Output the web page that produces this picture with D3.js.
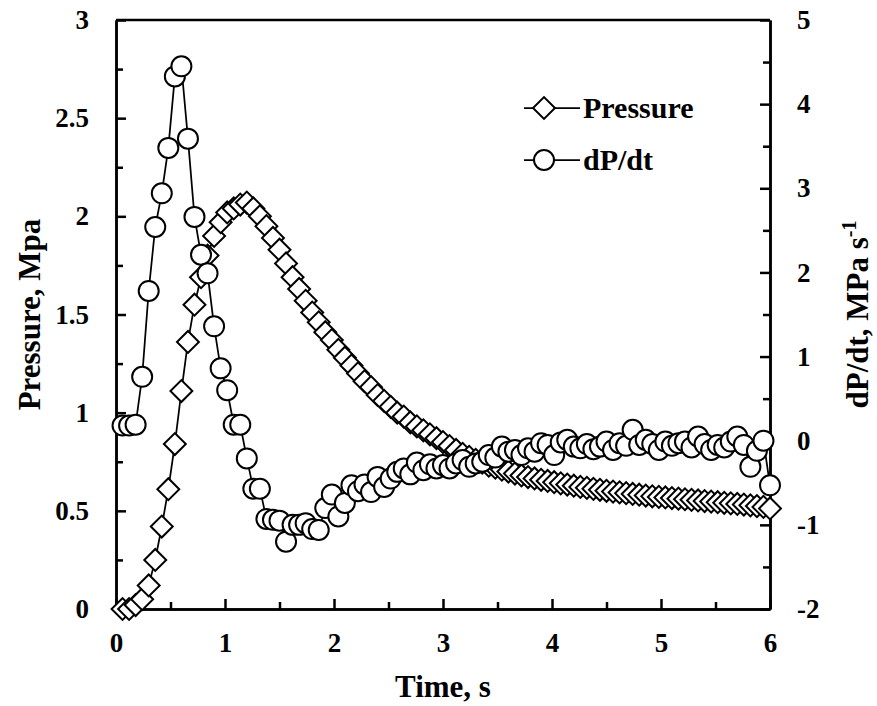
<!DOCTYPE html>
<html>
<head>
<meta charset="utf-8">
<script src="https://cdn.jsdelivr.net/npm/d3@7"></script>
<style>
  body { margin: 0; background: #fff; }
  text { font-family: "Liberation Serif", "Times New Roman", serif; font-weight: bold; }
</style>
</head>
<body>
<div id="chart"></div>
<script>
// Pressure and its rate of change vs time, twin y axes.

const time = [
  0.06, 0.12, 0.18, 0.24, 0.30, 0.36, 0.42, 0.48, 0.54, 0.60,
  0.66, 0.72, 0.78, 0.84, 0.90, 0.96, 1.02, 1.08, 1.14, 1.20,
  1.26, 1.32, 1.38, 1.44, 1.50, 1.56, 1.62, 1.68, 1.74, 1.80,
  1.86, 1.92, 1.98, 2.04, 2.10, 2.16, 2.22, 2.28, 2.34, 2.40,
  2.46, 2.52, 2.58, 2.64, 2.70, 2.76, 2.82, 2.88, 2.94, 3.00,
  3.06, 3.12, 3.18, 3.24, 3.30, 3.36, 3.42, 3.48, 3.54, 3.60,
  3.66, 3.72, 3.78, 3.84, 3.90, 3.96, 4.02, 4.08, 4.14, 4.20,
  4.26, 4.32, 4.38, 4.44, 4.50, 4.56, 4.62, 4.68, 4.74, 4.80,
  4.86, 4.92, 4.98, 5.04, 5.10, 5.16, 5.22, 5.28, 5.34, 5.40,
  5.46, 5.52, 5.58, 5.64, 5.70, 5.76, 5.82, 5.88, 5.94, 6.00
];

// Pressure, MPa (left axis)
const pressure = [
  0.00, 0.00, 0.02, 0.05, 0.12, 0.25, 0.42, 0.61, 0.84, 1.11,
  1.36, 1.55, 1.69, 1.80, 1.90, 1.97, 2.02, 2.04, 2.06, 2.07,
  2.04, 2.00, 1.95, 1.89, 1.83, 1.76, 1.69, 1.63, 1.57, 1.51,
  1.46, 1.41, 1.37, 1.32, 1.28, 1.24, 1.20, 1.16, 1.13, 1.09,
  1.06, 1.03, 1.00, 0.98, 0.95, 0.93, 0.91, 0.89, 0.87, 0.85,
  0.83, 0.81, 0.79, 0.775, 0.76, 0.745, 0.73, 0.72, 0.71, 0.70,
  0.69, 0.68, 0.672, 0.665, 0.658, 0.652, 0.646, 0.64, 0.634, 0.628,
  0.622, 0.617, 0.612, 0.607, 0.602, 0.598, 0.594, 0.59, 0.586, 0.582,
  0.578, 0.574, 0.571, 0.568, 0.565, 0.562, 0.559, 0.556, 0.553, 0.55,
  0.547, 0.544, 0.541, 0.538, 0.535, 0.532, 0.528, 0.524, 0.52, 0.512
];

// dP/dt, MPa s-1 (right axis)
const dpdt = [
  0.18, 0.18, 0.19, 0.76, 1.78, 2.54, 2.94, 3.48, 4.33, 4.45,
  3.59, 2.66, 2.21, 1.99, 1.36, 0.86, 0.60, 0.19, 0.19, -0.21,
  -0.57, -0.57, -0.93, -0.94, -0.95, -1.20, -1.00, -1.00, -0.98, -1.05,
  -1.06, -0.80, -0.64, -0.90, -0.74, -0.53, -0.60, -0.52, -0.61, -0.43,
  -0.55, -0.45, -0.37, -0.33, -0.40, -0.26, -0.35, -0.28, -0.33, -0.29,
  -0.33, -0.27, -0.23, -0.31, -0.27, -0.25, -0.17, -0.20, -0.07, -0.13,
  -0.11, -0.17, -0.09, -0.13, -0.03, -0.05, -0.17, -0.02, 0.01, -0.07,
  -0.09, -0.04, -0.10, -0.07, -0.01, -0.11, -0.03, -0.06, 0.13, -0.05,
  0.01, -0.04, -0.11, -0.01, -0.06, -0.03, -0.01, -0.08, 0.05, -0.04,
  -0.11, -0.05, -0.08, -0.01, 0.05, -0.05, -0.31, -0.12, 0.00, -0.53
];

const xTicks = [0, 1, 2, 3, 4, 5, 6];
const xMinor = [0.5, 1.5, 2.5, 3.5, 4.5, 5.5];
const yLeftTicks = [0, 0.5, 1, 1.5, 2, 2.5, 3];
const yLeftMinor = [0.25, 0.75, 1.25, 1.75, 2.25, 2.75];
const yRightTicks = [-2, -1, 0, 1, 2, 3, 4, 5];
const yRightMinor = [-1.5, -0.5, 0.5, 1.5, 2.5, 3.5, 4.5];

const seriesNames = ["Pressure", "dP/dt"];

const W = 877, H = 706;
const plot = { left: 116, right: 770, top: 20, bottom: 609 };

const svg = d3.select("#chart").append("svg")
  .attr("width", W)
  .attr("height", H);

const x  = d3.scaleLinear().domain([0, 6]).range([plot.left, plot.right]);
const yL = d3.scaleLinear().domain([0, 3]).range([plot.bottom, plot.top]);
const yR = d3.scaleLinear().domain([-2, 5]).range([plot.bottom, plot.top]);

const axisStroke = 2.5;
const tickFont = "27px";

function styleAxis(g) {
  g.selectAll("path.domain").attr("stroke", "#000").attr("stroke-width", axisStroke);
  g.selectAll(".tick line").attr("stroke", "#000").attr("stroke-width", axisStroke);
  g.selectAll(".tick text").attr("fill", "#000").style("font-size", tickFont)
    .style("font-family", "'Liberation Serif', 'Times New Roman', serif")
    .style("font-weight", "bold");
}

// top frame line
svg.append("line")
  .attr("x1", plot.left).attr("x2", plot.right)
  .attr("y1", plot.top).attr("y2", plot.top)
  .attr("stroke", "#000").attr("stroke-width", axisStroke);

// bottom axis
svg.append("g")
  .attr("transform", `translate(0,${plot.bottom})`)
  .call(d3.axisBottom(x).tickValues(xMinor).tickSizeInner(-7).tickSizeOuter(0).tickFormat(""))
  .call(styleAxis);
svg.append("g")
  .attr("transform", `translate(0,${plot.bottom})`)
  .call(d3.axisBottom(x).tickValues(xTicks).tickSizeInner(-10).tickSizeOuter(0)
    .tickPadding(24).tickFormat(d => String(d)))
  .call(styleAxis);

// left axis
svg.append("g")
  .attr("transform", `translate(${plot.left},0)`)
  .call(d3.axisLeft(yL).tickValues(yLeftMinor).tickSizeInner(-7).tickSizeOuter(0).tickFormat(""))
  .call(styleAxis);
svg.append("g")
  .attr("transform", `translate(${plot.left},0)`)
  .call(d3.axisLeft(yL).tickValues(yLeftTicks).tickSizeInner(-10).tickSizeOuter(0)
    .tickPadding(27).tickFormat(d => String(d)))
  .call(styleAxis);

// right axis
svg.append("g")
  .attr("transform", `translate(${plot.right},0)`)
  .call(d3.axisRight(yR).tickValues(yRightMinor).tickSizeInner(-7).tickSizeOuter(0).tickFormat(""))
  .call(styleAxis);
svg.append("g")
  .attr("transform", `translate(${plot.right},0)`)
  .call(d3.axisRight(yR).tickValues(yRightTicks).tickSizeInner(-10).tickSizeOuter(0)
    .tickPadding(27).tickFormat(d => String(d)))
  .call(styleAxis);

// axis titles
svg.append("text")
  .attr("x", (plot.left + plot.right) / 2)
  .attr("y", 697)
  .attr("text-anchor", "middle")
  .style("font-size", "31px")
  .text("Time, s");

svg.append("text")
  .attr("transform", `translate(40,${(plot.top + plot.bottom) / 2}) rotate(-90)`)
  .attr("text-anchor", "middle")
  .style("font-size", "31px")
  .text("Pressure, Mpa");

const rTitle = svg.append("text")
  .attr("transform", `translate(868,${(plot.top + plot.bottom) / 2}) rotate(-90)`)
  .attr("text-anchor", "middle")
  .style("font-size", "31px");
rTitle.append("tspan").text("dP/dt, MPa s");
rTitle.append("tspan").attr("dy", -12).style("font-size", "20px").text("-1");

// markers
const diamond = d3.symbol(d3.symbolSquare, 240);
const rows = time.map((t, i) => ({ t, p: pressure[i], r: dpdt[i] }));

const line = (yScale, key) => d3.line().x(d => x(d.t)).y(d => yScale(d[key]));

svg.append("path")
  .datum(rows)
  .attr("d", line(yL, "p"))
  .attr("fill", "none").attr("stroke", "#000").attr("stroke-width", 1.75);

svg.append("g").selectAll("path")
  .data(rows)
  .join("path")
    .attr("d", diamond())
    .attr("transform", d => `translate(${x(d.t)},${yL(d.p)}) rotate(45)`)
    .attr("fill", "#fff").attr("stroke", "#000").attr("stroke-width", 2);

svg.append("path")
  .datum(rows)
  .attr("d", line(yR, "r"))
  .attr("fill", "none").attr("stroke", "#000").attr("stroke-width", 1.75);

svg.append("g").selectAll("circle")
  .data(rows)
  .join("circle")
    .attr("cx", d => x(d.t))
    .attr("cy", d => yR(d.r))
    .attr("r", 10)
    .attr("fill", "#fff").attr("stroke", "#000").attr("stroke-width", 2);

// legend
const legend = svg.append("g");
const legendRows = [
  { name: seriesNames[0], y: 108, shape: "diamond" },
  { name: seriesNames[1], y: 160, shape: "circle" }
];
legendRows.forEach(l => {
  legend.append("line")
    .attr("x1", 524).attr("x2", 580).attr("y1", l.y).attr("y2", l.y)
    .attr("stroke", "#000").attr("stroke-width", 1.75);
  if (l.shape === "diamond") {
    legend.append("path")
      .attr("d", diamond())
      .attr("transform", `translate(544,${l.y}) rotate(45)`)
      .attr("fill", "#fff").attr("stroke", "#000").attr("stroke-width", 2);
  } else {
    legend.append("circle")
      .attr("cx", 544).attr("cy", l.y).attr("r", 10)
      .attr("fill", "#fff").attr("stroke", "#000").attr("stroke-width", 2);
  }
  legend.append("text")
    .attr("x", 583).attr("y", l.y + 10)
    .style("font-size", "30px")
    .text(l.name);
});
</script>
</body>
</html>
